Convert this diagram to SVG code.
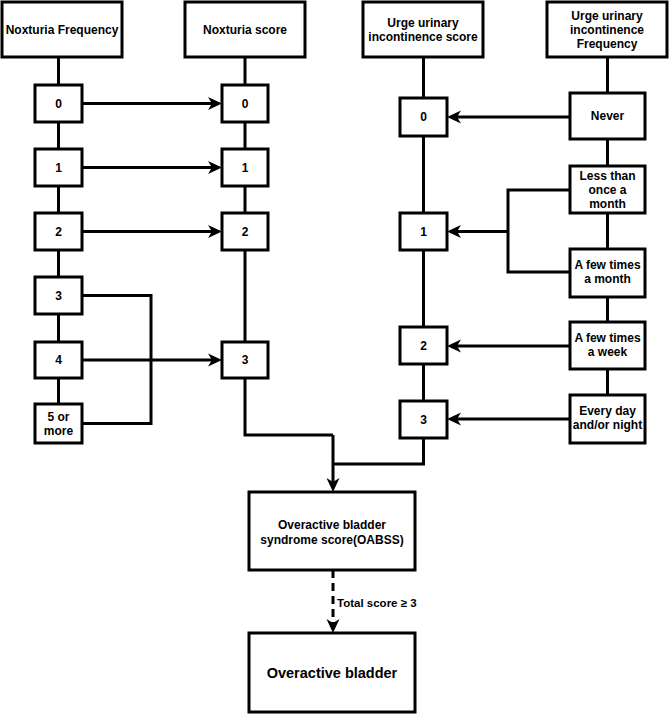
<svg xmlns="http://www.w3.org/2000/svg" width="669" height="716" viewBox="0 0 669 716">
<style>
  .box{fill:#ffffff;stroke:#000000;stroke-width:3}
  .t{font-family:"Liberation Sans",Arial,Helvetica,sans-serif;font-weight:bold;font-size:12px;fill:#000000;text-anchor:middle}
  .big{font-size:14.5px}
  .lbl{font-size:11.5px;text-anchor:start}
  .c{fill:none;stroke:#000000;stroke-width:3}
  .a{marker-end:url(#arr)}
  .d{stroke-dasharray:8 5}
</style>
<defs>
  <marker id="arr" markerUnits="userSpaceOnUse" markerWidth="15" markerHeight="14" refX="5" refY="6.5" orient="auto" overflow="visible">
    <path d="M0,0 L14,6.5 L0,13 L4,6.5 z" fill="#000000"/>
  </marker>
</defs>
<rect width="669" height="716" fill="#ffffff"/>
<g id="connectors">
  <!-- left column spine -->
  <path class="c" d="M58.5,57 V404"/>
  <!-- noxturia score spine -->
  <path class="c" d="M245,57 V342"/>
  <!-- urge score spine -->
  <path class="c" d="M423.5,57 V438"/>
  <!-- urge frequency spine -->
  <path class="c" d="M607.5,57 V395"/>
  <!-- noxturia arrows -->
  <path class="c a" d="M82,103.5 H213"/>
  <path class="c a" d="M82,167.5 H213"/>
  <path class="c a" d="M82,231.5 H213"/>
  <path class="c a" d="M82,360 H213"/>
  <path class="c" d="M82,295.5 H151 V423.5 H82"/>
  <!-- urge arrows -->
  <path class="c a" d="M570,117 H456"/>
  <path class="c" d="M570,190 H508 V272 H570"/>
  <path class="c a" d="M508,231.5 H456"/>
  <path class="c a" d="M570,346 H456"/>
  <path class="c a" d="M570,419 H456"/>
  <!-- merge -->
  <path class="c" d="M245,378 V435 H333"/>
  <path class="c" d="M423.5,438 V464 H333"/>
  <path class="c a" d="M333,435 V483"/>
  <path class="c d a" d="M333,570 V624"/>
  <text class="t lbl" x="337" y="607">Total score ≥ 3</text>
</g>
<g id="noxturia-frequency">
  <rect class="box" x="2" y="2" width="120" height="55"/>
  <text class="t" x="62" y="34">Noxturia Frequency</text>
</g>
<g id="noxturia-score">
  <rect class="box" x="185" y="2" width="120" height="55"/>
  <text class="t" x="245" y="34">Noxturia score</text>
</g>
<g id="urge-score">
  <rect class="box" x="363" y="2" width="120" height="55"/>
  <text class="t" x="423" y="27">Urge urinary</text>
  <text class="t" x="423" y="41">incontinence score</text>
</g>
<g id="urge-frequency">
  <rect class="box" x="547" y="2" width="120" height="55"/>
  <text class="t" x="607" y="20">Urge urinary</text>
  <text class="t" x="607" y="34">incontinence</text>
  <text class="t" x="607" y="48">Frequency</text>
</g>
<g id="nf-0"><rect class="box" x="35" y="85" width="47" height="37"/><text class="t" x="58.5" y="107.5">0</text></g>
<g id="nf-1"><rect class="box" x="35" y="149" width="47" height="37"/><text class="t" x="58.5" y="171.5">1</text></g>
<g id="nf-2"><rect class="box" x="35" y="213" width="47" height="37"/><text class="t" x="58.5" y="235.5">2</text></g>
<g id="nf-3"><rect class="box" x="35" y="277" width="47" height="37"/><text class="t" x="58.5" y="299.5">3</text></g>
<g id="nf-4"><rect class="box" x="35" y="342" width="47" height="36"/><text class="t" x="58.5" y="364">4</text></g>
<g id="nf-5"><rect class="box" x="35" y="404" width="47" height="39"/><text class="t" x="58.5" y="421">5 or</text><text class="t" x="58.5" y="435">more</text></g>
<g id="ns-0"><rect class="box" x="222" y="85" width="46" height="37"/><text class="t" x="245" y="107.5">0</text></g>
<g id="ns-1"><rect class="box" x="222" y="149" width="46" height="37"/><text class="t" x="245" y="171.5">1</text></g>
<g id="ns-2"><rect class="box" x="222" y="213" width="46" height="37"/><text class="t" x="245" y="235.5">2</text></g>
<g id="ns-3"><rect class="box" x="222" y="342" width="46" height="36"/><text class="t" x="245" y="364">3</text></g>
<g id="us-0"><rect class="box" x="400" y="98" width="47" height="38"/><text class="t" x="423.5" y="121">0</text></g>
<g id="us-1"><rect class="box" x="400" y="213" width="47" height="37"/><text class="t" x="423.5" y="235.5">1</text></g>
<g id="us-2"><rect class="box" x="400" y="327" width="47" height="37"/><text class="t" x="423.5" y="349.5">2</text></g>
<g id="us-3"><rect class="box" x="400" y="401" width="47" height="37"/><text class="t" x="423.5" y="423.5">3</text></g>
<g id="uf-never"><rect class="box" x="570" y="93" width="75" height="46"/><text class="t" x="607.5" y="120">Never</text></g>
<g id="uf-less"><rect class="box" x="570" y="166" width="75" height="47"/><text class="t" x="607.5" y="180">Less than</text><text class="t" x="607.5" y="194">once a</text><text class="t" x="607.5" y="208">month</text></g>
<g id="uf-month"><rect class="box" x="570" y="249" width="75" height="48"/><text class="t" x="607.5" y="269">A few times</text><text class="t" x="607.5" y="283">a month</text></g>
<g id="uf-week"><rect class="box" x="570" y="322" width="75" height="47"/><text class="t" x="607.5" y="342">A few times</text><text class="t" x="607.5" y="356">a week</text></g>
<g id="uf-daily"><rect class="box" x="570" y="395" width="75" height="48"/><text class="t" x="607.5" y="415">Every day</text><text class="t" x="607.5" y="429">and/or night</text></g>
<g id="oabss">
  <rect class="box" x="249" y="492" width="166" height="78"/>
  <text class="t" x="332" y="529">Overactive bladder</text>
  <text class="t" x="332" y="544">syndrome score(OABSS)</text>
</g>
<g id="overactive-bladder">
  <rect class="box" x="249" y="633" width="166" height="79"/>
  <text class="t big" x="332" y="678">Overactive bladder</text>
</g>
</svg>
